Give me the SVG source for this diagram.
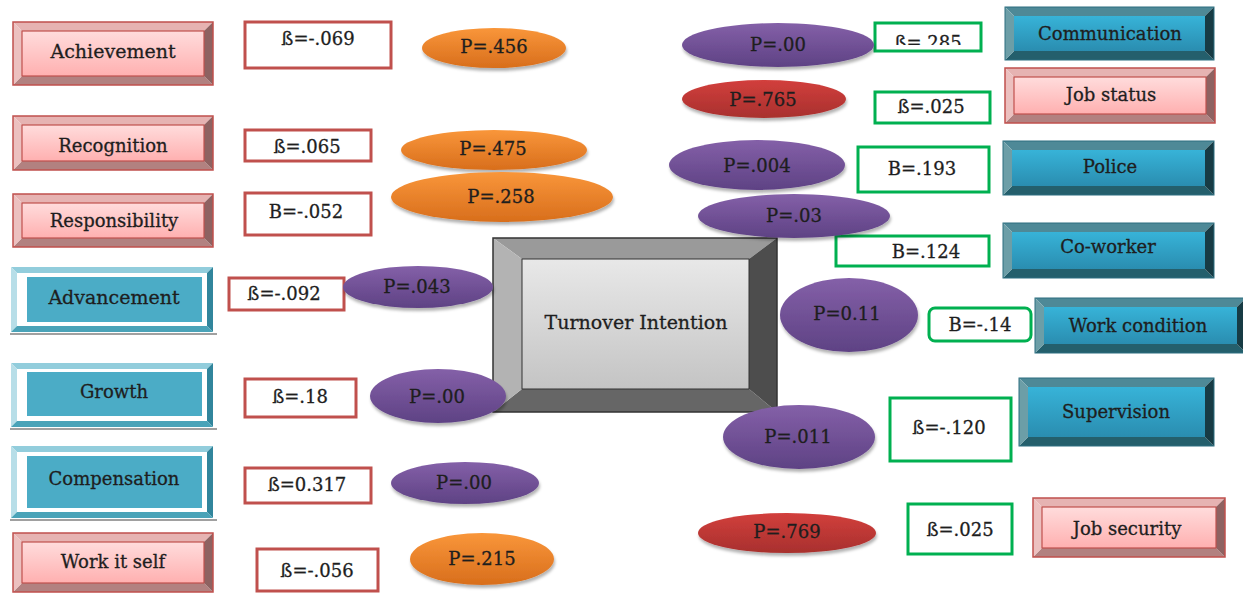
<svg xmlns="http://www.w3.org/2000/svg" width="1243" height="594" viewBox="0 0 1243 594">
<defs>
<linearGradient id="gPk" x1="0" y1="0" x2="0" y2="1"><stop offset="0" stop-color="#ffdcdc"/><stop offset="1" stop-color="#ffb0b0"/></linearGradient>
<linearGradient id="gBl" x1="0" y1="0" x2="0" y2="1"><stop offset="0" stop-color="#37b3d8"/><stop offset="1" stop-color="#2a8db0"/></linearGradient>
<linearGradient id="gGr" x1="0" y1="0" x2="0" y2="1"><stop offset="0" stop-color="#e8e8e8"/><stop offset="1" stop-color="#c4c4c4"/></linearGradient>
<linearGradient id="gOr" x1="0" y1="0" x2="0" y2="1"><stop offset="0" stop-color="#f9963a"/><stop offset="1" stop-color="#d86e1c"/></linearGradient>
<linearGradient id="gPu" x1="0" y1="0" x2="0" y2="1"><stop offset="0" stop-color="#8460a8"/><stop offset="1" stop-color="#5e4284"/></linearGradient>
<linearGradient id="gRd" x1="0" y1="0" x2="0" y2="1"><stop offset="0" stop-color="#d23f3c"/><stop offset="1" stop-color="#a8302e"/></linearGradient>
<filter id="sh" x="-10%" y="-20%" width="120%" height="150%"><feDropShadow dx="1" dy="3" stdDeviation="1.5" flood-color="#000" flood-opacity="0.3"/></filter>
<clipPath id="clip285"><rect x="875" y="23" width="106" height="22"/></clipPath>
</defs>
<style>
text{font-family:"DejaVu Serif","Liberation Serif",serif;font-size:18px;fill:#1e1e1e;stroke:#1e1e1e;stroke-width:0.3;text-anchor:middle}
.big{font-size:19px}
.pk-t{fill:#e6b3b2}.pk-l{fill:#ecc0bf}.pk-r{fill:#8e6261}.pk-b{fill:#b28180}
.pk-f{fill:url(#gPk);stroke:#c0504d;stroke-width:1.2}
.pk-o{fill:none;stroke:#c0504d;stroke-width:1.5}
.bl-t{fill:#4e8997}.bl-l{fill:#6c9ea7}.bl-r{fill:#173b44}.bl-b{fill:#245f6c}
.bl-f{fill:url(#gBl)}
.bl-o{fill:none;stroke:#2c6f80;stroke-width:1}
.fr-t{fill:#92cddc}.fr-l{fill:#b7dee8}.fr-r{fill:#31859c}.fr-b{fill:#4aa3b8}
.fr-w{fill:#fff}.fr-f{fill:#4bacc6}
.fr-s{stroke:#a0a0a0;stroke-width:2}
.ce-t{fill:#9a9a9a}.ce-l{fill:#b3b3b3}.ce-r{fill:#4d4d4d}.ce-b{fill:#666}
.ce-f{fill:url(#gGr);stroke:#333;stroke-width:1}
.ce-o{fill:none;stroke:#333;stroke-width:1.5}
.or{fill:url(#gOr);filter:url(#sh)}
.pu{fill:url(#gPu);filter:url(#sh)}
.rd{fill:url(#gRd);filter:url(#sh)}
.bR{fill:#fff;stroke:#c0504d;stroke-width:3}
.bG{fill:#fff;stroke:#00b050;stroke-width:3}
</style>

<!-- central node -->
<g id="turnover">
<polygon class="ce-t" points="493,238 777,238 749,259 522,259"/>
<polygon class="ce-b" points="493,412 777,412 749,389 522,389"/>
<polygon class="ce-l" points="493,238 522,259 522,389 493,412"/>
<polygon class="ce-r" points="777,238 777,412 749,389 749,259"/>
<rect class="ce-f" x="522" y="259" width="227" height="130"/>
<rect class="ce-o" x="493" y="238" width="284" height="174"/>
<text class="big" x="636" y="329">Turnover Intention</text>
</g>

<g id="connectors"></g>

<!-- left factors -->
<g id="achievement">
<polygon class="pk-t" points="13,22 213,22 204,31 22,31"/>
<polygon class="pk-b" points="13,85 213,85 204,76 22,76"/>
<polygon class="pk-l" points="13,22 22,31 22,76 13,85"/>
<polygon class="pk-r" points="213,22 213,85 204,76 204,31"/>
<rect class="pk-f" x="22" y="31" width="182" height="45"/>
<rect class="pk-o" x="13" y="22" width="200" height="63"/>
<text class="big" x="113" y="58">Achievement</text>
</g>
<g id="recognition">
<polygon class="pk-t" points="13,116 213,116 204,125 22,125"/>
<polygon class="pk-b" points="13,170 213,170 204,161 22,161"/>
<polygon class="pk-l" points="13,116 22,125 22,161 13,170"/>
<polygon class="pk-r" points="213,116 213,170 204,161 204,125"/>
<rect class="pk-f" x="22" y="125" width="182" height="36"/>
<rect class="pk-o" x="13" y="116" width="200" height="54"/>
<text x="113" y="152">Recognition</text>
</g>
<g id="responsibility">
<polygon class="pk-t" points="13,194 213,194 204,203 22,203"/>
<polygon class="pk-b" points="13,247 213,247 204,238 22,238"/>
<polygon class="pk-l" points="13,194 22,203 22,238 13,247"/>
<polygon class="pk-r" points="213,194 213,247 204,238 204,203"/>
<rect class="pk-f" x="22" y="203" width="182" height="35"/>
<rect class="pk-o" x="13" y="194" width="200" height="53"/>
<text x="114" y="227">Responsibility</text>
</g>
<g id="advancement">
<line class="fr-s" x1="10" y1="334" x2="217" y2="334"/>
<polygon class="fr-t" points="11,267 213,267 207,273 17,273"/>
<polygon class="fr-l" points="11,267 17,273 17,326 11,332"/>
<polygon class="fr-r" points="213,267 213,332 207,326 207,273"/>
<polygon class="fr-b" points="11,332 17,326 207,326 213,332"/>
<rect class="fr-w" x="17" y="273" width="190" height="53"/>
<rect class="fr-f" x="27" y="277" width="175" height="45"/>
<text class="big" x="114" y="304">Advancement</text>
</g>
<g id="growth">
<line class="fr-s" x1="10" y1="429" x2="217" y2="429"/>
<polygon class="fr-t" points="11,363 213,363 207,369 17,369"/>
<polygon class="fr-l" points="11,363 17,369 17,421 11,427"/>
<polygon class="fr-r" points="213,363 213,427 207,421 207,369"/>
<polygon class="fr-b" points="11,427 17,421 207,421 213,427"/>
<rect class="fr-w" x="17" y="369" width="190" height="52"/>
<rect class="fr-f" x="27" y="372" width="175" height="44"/>
<text x="114" y="398">Growth</text>
</g>
<g id="compensation">
<line class="fr-s" x1="10" y1="520" x2="217" y2="520"/>
<polygon class="fr-t" points="11,446 213,446 207,452 17,452"/>
<polygon class="fr-l" points="11,446 17,452 17,512 11,518"/>
<polygon class="fr-r" points="213,446 213,518 207,512 207,452"/>
<polygon class="fr-b" points="11,518 17,512 207,512 213,518"/>
<rect class="fr-w" x="17" y="452" width="190" height="60"/>
<rect class="fr-f" x="27" y="456" width="175" height="52"/>
<text x="114" y="485">Compensation</text>
</g>
<g id="workitself">
<polygon class="pk-t" points="13,533 213,533 204,542 22,542"/>
<polygon class="pk-b" points="13,592 213,592 204,583 22,583"/>
<polygon class="pk-l" points="13,533 22,542 22,583 13,592"/>
<polygon class="pk-r" points="213,533 213,592 204,583 204,542"/>
<rect class="pk-f" x="22" y="542" width="182" height="41"/>
<rect class="pk-o" x="13" y="533" width="200" height="59"/>
<text x="113" y="568">Work it self</text>
</g>

<!-- right factors -->
<g id="communication">
<polygon class="bl-t" points="1005,7 1214,7 1205,16 1014,16"/>
<polygon class="bl-b" points="1005,60 1214,60 1205,51 1014,51"/>
<polygon class="bl-l" points="1005,7 1014,16 1014,51 1005,60"/>
<polygon class="bl-r" points="1214,7 1214,60 1205,51 1205,16"/>
<rect class="bl-f" x="1014" y="16" width="191" height="35"/>
<rect class="bl-o" x="1005" y="7" width="209" height="53"/>
<text x="1110" y="40">Communication</text>
</g>
<g id="jobstatus">
<polygon class="pk-t" points="1005,68 1215,68 1206,77 1014,77"/>
<polygon class="pk-b" points="1005,123 1215,123 1206,114 1014,114"/>
<polygon class="pk-l" points="1005,68 1014,77 1014,114 1005,123"/>
<polygon class="pk-r" points="1215,68 1215,123 1206,114 1206,77"/>
<rect class="pk-f" x="1014" y="77" width="192" height="37"/>
<rect class="pk-o" x="1005" y="68" width="210" height="55"/>
<text x="1111" y="101">Job status</text>
</g>
<g id="police">
<polygon class="bl-t" points="1003,141 1214,141 1205,150 1012,150"/>
<polygon class="bl-b" points="1003,195 1214,195 1205,186 1012,186"/>
<polygon class="bl-l" points="1003,141 1012,150 1012,186 1003,195"/>
<polygon class="bl-r" points="1214,141 1214,195 1205,186 1205,150"/>
<rect class="bl-f" x="1012" y="150" width="193" height="36"/>
<rect class="bl-o" x="1003" y="141" width="211" height="54"/>
<text x="1110" y="173">Police</text>
</g>
<g id="coworker">
<polygon class="bl-t" points="1003,223 1214,223 1205,232 1012,232"/>
<polygon class="bl-b" points="1003,278 1214,278 1205,269 1012,269"/>
<polygon class="bl-l" points="1003,223 1012,232 1012,269 1003,278"/>
<polygon class="bl-r" points="1214,223 1214,278 1205,269 1205,232"/>
<rect class="bl-f" x="1012" y="232" width="193" height="37"/>
<rect class="bl-o" x="1003" y="223" width="211" height="55"/>
<text x="1108" y="253">Co-worker</text>
</g>
<g id="workcondition">
<polygon class="bl-t" points="1035,298 1246,298 1237,307 1044,307"/>
<polygon class="bl-b" points="1035,353 1246,353 1237,344 1044,344"/>
<polygon class="bl-l" points="1035,298 1044,307 1044,344 1035,353"/>
<polygon class="bl-r" points="1246,298 1246,353 1237,344 1237,307"/>
<rect class="bl-f" x="1044" y="307" width="193" height="37"/>
<rect class="bl-o" x="1035" y="298" width="211" height="55"/>
<text x="1138" y="332">Work condition</text>
</g>
<g id="supervision">
<polygon class="bl-t" points="1019,378 1214,378 1205,387 1028,387"/>
<polygon class="bl-b" points="1019,446 1214,446 1205,437 1028,437"/>
<polygon class="bl-l" points="1019,378 1028,387 1028,437 1019,446"/>
<polygon class="bl-r" points="1214,378 1214,446 1205,437 1205,387"/>
<rect class="bl-f" x="1028" y="387" width="177" height="50"/>
<rect class="bl-o" x="1019" y="378" width="195" height="68"/>
<text x="1116" y="418">Supervision</text>
</g>
<g id="jobsecurity">
<polygon class="pk-t" points="1033,498 1225,498 1216,507 1042,507"/>
<polygon class="pk-b" points="1033,557 1225,557 1216,548 1042,548"/>
<polygon class="pk-l" points="1033,498 1042,507 1042,548 1033,557"/>
<polygon class="pk-r" points="1225,498 1225,557 1216,548 1216,507"/>
<rect class="pk-f" x="1042" y="507" width="174" height="41"/>
<rect class="pk-o" x="1033" y="498" width="192" height="59"/>
<text x="1127" y="535">Job security</text>
</g>

<!-- beta labels left -->
<g id="beta-achievement"><rect class="bR" x="245" y="22" width="146" height="46"/><text x="318" y="45">ß=-.069</text></g>
<g id="beta-recognition"><rect class="bR" x="245" y="130" width="126" height="31"/><text x="307" y="153">ß=.065</text></g>
<g id="beta-responsibility"><rect class="bR" x="245" y="193" width="126" height="42"/><text x="306" y="218">B=-.052</text></g>
<g id="beta-advancement"><rect class="bR" x="229" y="278" width="115" height="32"/><text x="284" y="300">ß=-.092</text></g>
<g id="beta-growth"><rect class="bR" x="245" y="379" width="111" height="38"/><text x="300" y="403">ß=.18</text></g>
<g id="beta-compensation"><rect class="bR" x="245" y="468" width="126" height="35"/><text x="307" y="491">ß=0.317</text></g>
<g id="beta-workitself"><rect class="bR" x="257" y="549" width="121" height="42"/><text x="317" y="577">ß=-.056</text></g>

<!-- beta labels right -->
<g id="beta-communication"><rect class="bG" x="875" y="23" width="106" height="28"/><text x="928" y="49" clip-path="url(#clip285)">ß=.285</text></g>
<g id="beta-jobstatus"><rect class="bG" x="875" y="92" width="115" height="31"/><text x="931" y="113">ß=.025</text></g>
<g id="beta-police"><rect class="bG" x="858" y="147" width="131" height="45"/><text x="922" y="175">B=.193</text></g>
<g id="beta-coworker"><rect class="bG" x="836" y="236" width="153" height="30"/><text x="926" y="258">B=.124</text></g>
<g id="beta-workcondition"><rect class="bG" x="929" y="308" width="102" height="33" rx="6"/><text x="980" y="331">B=-.14</text></g>
<g id="beta-supervision"><rect class="bG" x="890" y="398" width="121" height="63"/><text x="949" y="434">ß=-.120</text></g>
<g id="beta-jobsecurity"><rect class="bG" x="908" y="504" width="104" height="50"/><text x="960" y="536">ß=.025</text></g>

<!-- p-value ellipses -->
<g id="p-achievement"><ellipse class="or" cx="494" cy="48" rx="72" ry="20"/><text x="494" y="53">P=.456</text></g>
<g id="p-recognition"><ellipse class="or" cx="494" cy="150" rx="93" ry="20"/><text x="493" y="155">P=.475</text></g>
<g id="p-responsibility"><ellipse class="or" cx="502" cy="197" rx="111" ry="25"/><text x="501" y="203">P=.258</text></g>
<g id="p-advancement"><ellipse class="pu" cx="418" cy="287" rx="75" ry="21"/><text x="417" y="293">P=.043</text></g>
<g id="p-growth"><ellipse class="pu" cx="438" cy="396" rx="68" ry="27"/><text x="437" y="403">P=.00</text></g>
<g id="p-compensation"><ellipse class="pu" cx="465" cy="483" rx="74" ry="21"/><text x="464" y="489">P=.00</text></g>
<g id="p-workitself"><ellipse class="or" cx="482" cy="559" rx="72" ry="26"/><text x="482" y="565">P=.215</text></g>
<g id="p-communication"><ellipse class="pu" cx="778" cy="45" rx="96" ry="22"/><text x="778" y="51">P=.00</text></g>
<g id="p-jobstatus"><ellipse class="rd" cx="764" cy="99" rx="82" ry="19"/><text x="763" y="106">P=.765</text></g>
<g id="p-police"><ellipse class="pu" cx="757" cy="165" rx="88" ry="25"/><text x="757" y="172">P=.004</text></g>
<g id="p-coworker"><ellipse class="pu" cx="794" cy="216" rx="96" ry="22"/><text x="794" y="222">P=.03</text></g>
<g id="p-workcondition"><ellipse class="pu" cx="849" cy="315" rx="69" ry="37"/><text x="847" y="320">P=0.11</text></g>
<g id="p-supervision"><ellipse class="pu" cx="799" cy="437" rx="76" ry="32"/><text x="798" y="443">P=.011</text></g>
<g id="p-jobsecurity"><ellipse class="rd" cx="787" cy="533" rx="89" ry="20"/><text x="787" y="538">P=.769</text></g>
</svg>
